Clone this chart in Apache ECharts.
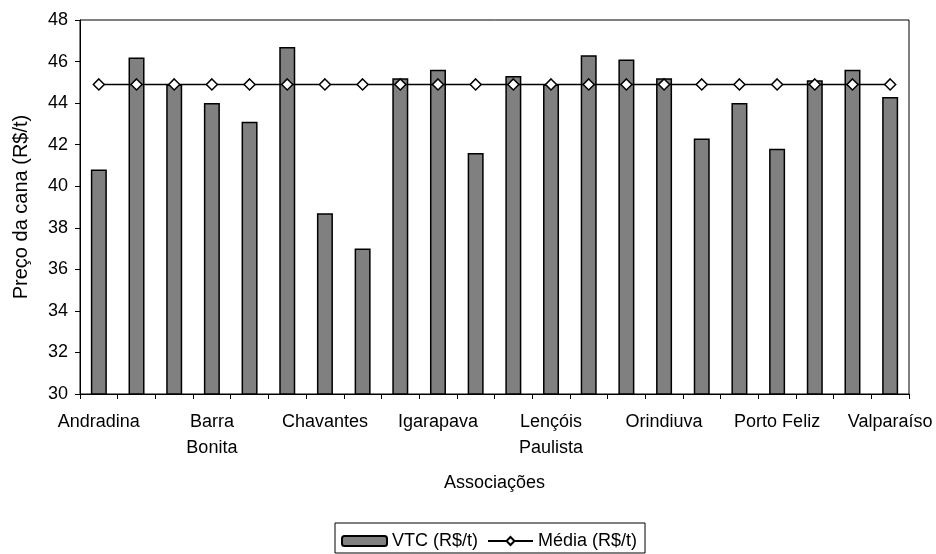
<!DOCTYPE html>
<html>
<head>
<meta charset="utf-8">
<script src="https://cdn.jsdelivr.net/npm/echarts@6/dist/echarts.min.js"></script>
<style>
  html, body { margin: 0; padding: 0; background: #fff; }
  #chart { width: 936px; height: 554px; }
</style>
</head>
<body>
<div id="chart"></div>
<script>
// Associações de fornecedores de cana (only every third name is labelled on the axis)
const associacoes = [
  'Andradina', 'Araraquara', 'Assis',
  'Barra\nBonita', 'Bauru', 'Catanduva',
  'Chavantes', 'Guariba', 'Ibitinga',
  'Igarapava', 'Jaboticabal', 'Jaú',
  'Lençóis\nPaulista', 'Mococa', 'Novo Horizonte',
  'Orindiuva', 'Ourinhos', 'Piracicaba',
  'Porto Feliz', 'Sertãozinho', 'Tarumã',
  'Valparaíso'
];

// VTC (R$/t) per association
const vtc = [
  40.8, 46.2, 44.9,
  44.0, 43.1, 46.7,
  38.7, 37.0, 45.2,
  45.6, 41.6, 45.3,
  44.9, 46.3, 46.1,
  45.2, 42.3, 44.0,
  41.8, 45.1, 45.6,
  44.3
];

// Média (R$/t), same for every association
const media = [
  44.9, 44.9, 44.9, 44.9, 44.9, 44.9, 44.9, 44.9, 44.9, 44.9, 44.9,
  44.9, 44.9, 44.9, 44.9, 44.9, 44.9, 44.9, 44.9, 44.9, 44.9, 44.9
];

const yMin = 30, yMax = 48, yStep = 2;

const font = 'Liberation Sans, Arial, sans-serif';
const chart = echarts.init(document.getElementById('chart'), null, { renderer: 'canvas' });

chart.setOption({
  animation: false,
  backgroundColor: '#fff',
  textStyle: { fontFamily: font, color: '#000' },
  grid: {
    left: 80, top: 20, right: 27, bottom: 160,
    show: true, borderColor: '#000', borderWidth: 1,
    backgroundColor: 'transparent'
  },
  legend: {
    left: 335, top: 523,
    padding: [9, 8, 3, 6],
    borderColor: '#000', borderWidth: 1,
    itemWidth: 45, itemHeight: 10, itemGap: 9,
    textStyle: { fontFamily: font, fontSize: 18, color: '#000' },
    data: ['VTC (R$/t)', 'Média (R$/t)']
  },
  xAxis: {
    type: 'category',
    data: associacoes,
    boundaryGap: true,
    name: 'Associações',
    nameLocation: 'middle',
    nameGap: 80,
    nameTextStyle: { fontFamily: font, fontSize: 18, color: '#000' },
    axisLine: { lineStyle: { color: '#000', width: 1 } },
    axisTick: { show: true, interval: 0, length: 5, lineStyle: { color: '#000' } },
    axisLabel: {
      interval: 2,
      margin: 15,
      fontFamily: font, fontSize: 18, color: '#000',
      lineHeight: 26
    },
    splitLine: { show: false }
  },
  yAxis: {
    type: 'value',
    min: yMin, max: yMax, interval: yStep,
    name: 'Preço da cana (R$/t)',
    nameLocation: 'middle',
    nameGap: 49,
    nameRotate: 90,
    nameTextStyle: { fontFamily: font, fontSize: 20, color: '#000' },
    axisLine: { show: true, lineStyle: { color: '#000', width: 1 } },
    axisTick: { show: true, length: 5, lineStyle: { color: '#000' } },
    axisLabel: { margin: 12, fontFamily: font, fontSize: 18, color: '#000' },
    splitLine: { show: false }
  },
  series: [
    {
      name: 'VTC (R$/t)',
      type: 'bar',
      data: vtc,
      barWidth: 16,
      itemStyle: { color: '#808080', borderColor: '#000', borderWidth: 1.5 }
    },
    {
      name: 'Média (R$/t)',
      type: 'line',
      data: media,
      symbol: 'diamond',
      symbolSize: 11,
      showAllSymbol: true,
      lineStyle: { color: '#000', width: 1.5 },
      itemStyle: { color: '#fff', borderColor: '#000', borderWidth: 1.5 },
      z: 5
    }
  ]
});
</script>
</body>
</html>
